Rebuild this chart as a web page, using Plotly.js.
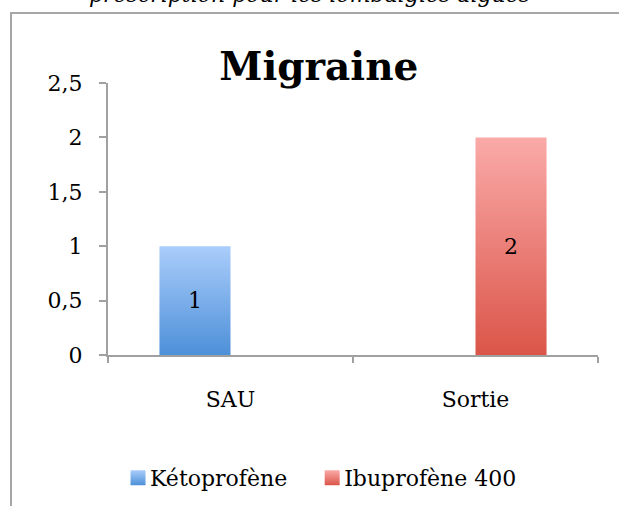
<!DOCTYPE html>
<html>
<head>
<meta charset="utf-8">
<script src="https://cdn.plot.ly/plotly-3.0.1.min.js"></script>
<style>
  html, body { margin:0; padding:0; width:619px; height:506px; overflow:hidden; background:#fff; }
  #frame { position:absolute; left:10px; top:12px; width:700px; height:600px; border:2px solid #a6a6a6; box-sizing:border-box; }
  #above { position:absolute; left:0; top:-16px; width:619px; text-align:center; font-family:"DejaVu Serif", serif; font-style:italic; font-size:22px; line-height:1; color:#000; }
  #chart { position:absolute; left:0; top:0; width:619px; height:506px; }
</style>
</head>
<body>
<div id="frame"></div>
<div id="above">prescription pour les lombalgies aiguës</div>
<div id="chart"></div>
<script>
const categories = ["SAU", "Sortie"];
const seriesNames = ["Kétoprofène", "Ibuprofène 400"];
const ketoprofene = [1, null];
const ibuprofene = [null, 2];
const yTickVals = [0, 0.5, 1, 1.5, 2, 2.5];
const yTickText = ["0", "0,5", "1", "1,5", "2", "2,5"];
const chartTitle = "Migraine";

const font = "DejaVu Serif, serif";
const fs = 22;
const traces = [
  { type:"bar", name:seriesNames[0], x:categories, y:ketoprofene,
    text:ketoprofene.map(v => v === null ? "" : String(v)), textposition:"inside", insidetextanchor:"middle",
    textfont:{family:font, size:fs, color:"#000"}, marker:{color:"#7aaee8"}, cliponaxis:false },
  { type:"bar", name:seriesNames[1], x:categories, y:ibuprofene,
    text:ibuprofene.map(v => v === null ? "" : String(v)), textposition:"inside", insidetextanchor:"middle",
    textfont:{family:font, size:fs, color:"#000"}, marker:{color:"#ec7f78"}, cliponaxis:false }
];
const layout = {
  width:619, height:506,
  margin:{l:108, r:21, t:83, b:151, autoexpand:false},
  paper_bgcolor:"rgba(0,0,0,0)", plot_bgcolor:"rgba(0,0,0,0)",
  font:{family:font, size:fs, color:"#000"},
  title:{text:"<b>"+chartTitle+"</b>", font:{family:font, size:39, color:"#000"}, x:0.515, xanchor:"center", y:0.868, yanchor:"middle"},
  barmode:"group", bargap:0.42, bargroupgap:0,
  showlegend:true,
  legend:{orientation:"h", x:0.0286, xanchor:"left", y:-0.452, yanchor:"middle", font:{family:font, size:fs, color:"#000"}, itemwidth:30, tracegroupgap:0},
  xaxis:{type:"category", showline:true, linecolor:"#a0a0a0", linewidth:2, ticks:"outside", tickson:"boundaries", ticklen:6, tickcolor:"#a0a0a0", tickwidth:2,
         showgrid:false, zeroline:false, ticklabelstandoff:24, tickfont:{family:font, size:fs, color:"#000"}},
  yaxis:{range:[0,2.5], tickvals:yTickVals, ticktext:yTickText, showline:true, linecolor:"#a0a0a0", linewidth:2, ticks:"outside", ticklen:7, tickcolor:"#a0a0a0", tickwidth:2,
         showgrid:false, zeroline:false, ticklabelstandoff:12, tickfont:{family:font, size:fs, color:"#000"}}
};

function addGradients(gd) {
  const svg = gd.querySelector("svg.main-svg");
  const ns = "http://www.w3.org/2000/svg";
  let defs = svg.querySelector("defs");
  if (!defs) { defs = document.createElementNS(ns, "defs"); svg.insertBefore(defs, svg.firstChild); }
  const grads = [["gBlue", "#aacdfb", "#4d90d8"], ["gRed", "#faaaa8", "#db5549"]];
  grads.forEach(([id, c1, c2]) => {
    const g = document.createElementNS(ns, "linearGradient");
    g.setAttribute("id", id); g.setAttribute("x1", "0"); g.setAttribute("y1", "0"); g.setAttribute("x2", "0"); g.setAttribute("y2", "1");
    const s1 = document.createElementNS(ns, "stop"); s1.setAttribute("offset", "0"); s1.setAttribute("stop-color", c1);
    const s2 = document.createElementNS(ns, "stop"); s2.setAttribute("offset", "1"); s2.setAttribute("stop-color", c2);
    g.appendChild(s1); g.appendChild(s2); defs.appendChild(g);
  });
  gd.querySelectorAll(".barlayer .trace").forEach((t, i) => {
    t.querySelectorAll(".point path").forEach(p => { p.style.fill = "url(#" + grads[i][0] + ")"; });
  });
  gd.querySelectorAll(".legend .traces").forEach((t, i) => {
    t.querySelectorAll(".legendpoints path").forEach(p => {
      p.setAttribute("d", "M15.5,7.5H0.5V-7.5H15.5Z");
      p.style.fill = "url(#" + grads[i][0] + ")"; p.style.stroke = "none";
    });
    if (i === 0) {
      const tr = t.getAttribute("transform") || "";
      const m = tr.match(/translate\(\s*([-\d.]+)[ ,]+([-\d.]+)\s*\)/);
      if (m) t.setAttribute("transform", "translate(" + (parseFloat(m[1]) - 12) + "," + m[2] + ")");
    }
  });
}

Plotly.newPlot("chart", traces, layout, {staticPlot:true, displayModeBar:false}).then(addGradients);
</script>
</body>
</html>
